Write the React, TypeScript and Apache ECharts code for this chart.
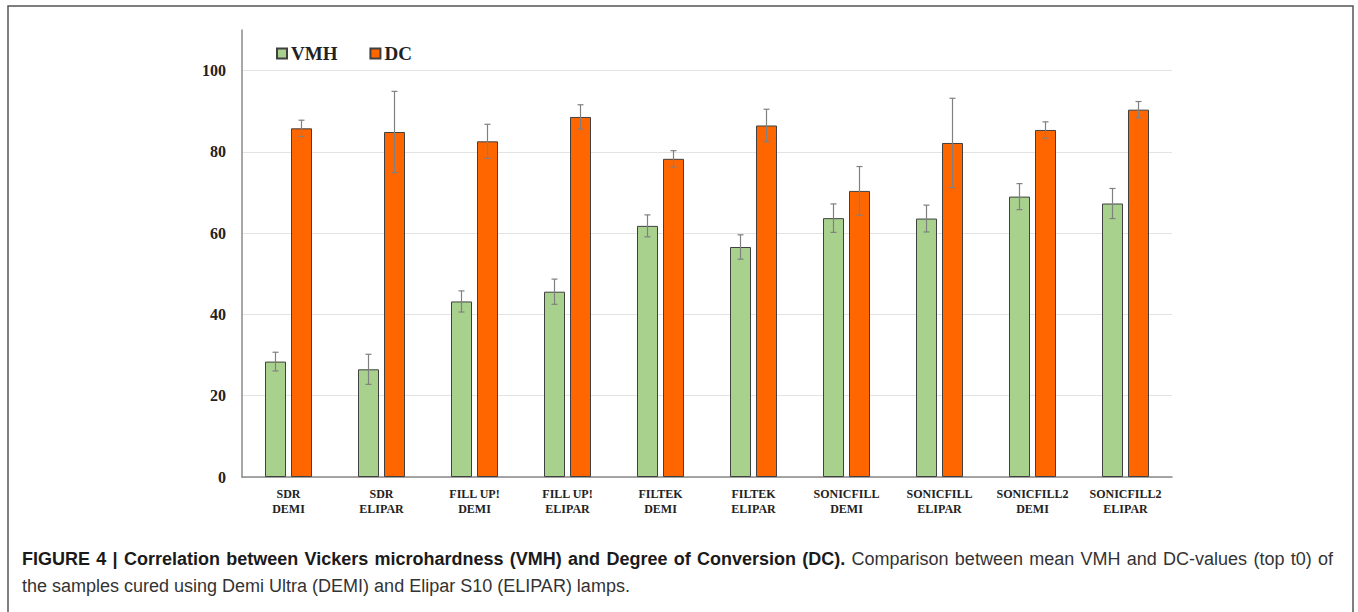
import React, { useEffect, useRef } from "react";
import * as echarts from "echarts";

const categories = [
  "SDR\nDEMI",
  "SDR\nELIPAR",
  "FILL UP!\nDEMI",
  "FILL UP!\nELIPAR",
  "FILTEK\nDEMI",
  "FILTEK\nELIPAR",
  "SONICFILL\nDEMI",
  "SONICFILL\nELIPAR",
  "SONICFILL2\nDEMI",
  "SONICFILL2\nELIPAR",
];
const vmh = [28.4, 26.5, 43.2, 45.6, 61.8, 56.6, 63.7, 63.6, 69.0, 67.3];
const vmhErr = [2.3, 3.7, 2.6, 3.1, 2.7, 3.0, 3.5, 3.3, 3.2, 3.7];
const dc = [85.8, 84.9, 82.6, 88.6, 78.3, 86.5, 70.4, 82.2, 85.4, 90.4];
const dcErr = [2.0, 10.0, 4.2, 3.0, 2.0, 4.0, 6.0, 11.0, 2.0, 2.0];
const yTicks = { min: 0, max: 110, interval: 20 };

const captionBold =
  "FIGURE 4 | Correlation between Vickers microhardness (VMH) and Degree of Conversion (DC).";
const captionRest1 = "Comparison between mean VMH and DC-values (top t0) of";
const captionLine2 =
  "the samples cured using Demi Ultra (DEMI) and Elipar S10 (ELIPAR) lamps.";

const BAR_W = 21;
const GAP_PX = 5;
const CAP_FONT = 18;
const CAP_LEFT = 22;
const CAP_RIGHT = 1333;

function errorSeries(name: string, means: number[], errs: number[], offset: number) {
  return {
    type: "custom",
    name: name + "-err",
    z: 5,
    silent: true,
    encode: { x: 0, y: 1 },
    data: means.map((m, i) => [i, m, errs[i]]),
    renderItem: (params: any, api: any) => {
      const idx = api.value(0);
      const m = api.value(1);
      const e = api.value(2);
      const top = api.coord([idx, m + e]);
      const bot = api.coord([idx, m - e]);
      const x = top[0] + offset;
      const cap = 3;
      const style = { stroke: "#808080", lineWidth: 1.2 };
      return {
        type: "group",
        children: [
          { type: "line", shape: { x1: x, y1: top[1], x2: x, y2: bot[1] }, style },
          { type: "line", shape: { x1: x - cap, y1: top[1], x2: x + cap, y2: top[1] }, style },
          { type: "line", shape: { x1: x - cap, y1: bot[1], x2: x + cap, y2: bot[1] }, style },
        ],
      };
    },
  };
}

function justifiedLine(y: number) {
  const canvas = document.createElement("canvas");
  const ctx = canvas.getContext("2d") as CanvasRenderingContext2D;
  const boldFont = `bold ${CAP_FONT}px "Liberation Sans"`;
  const normFont = `${CAP_FONT}px "Liberation Sans"`;
  const words: { t: string; bold: boolean; w: number }[] = [];
  captionBold.split(" ").forEach((t) => {
    ctx.font = boldFont;
    words.push({ t, bold: true, w: ctx.measureText(t).width });
  });
  captionRest1.split(" ").forEach((t) => {
    ctx.font = normFont;
    words.push({ t, bold: false, w: ctx.measureText(t).width });
  });
  const total = words.reduce((s, w) => s + w.w, 0);
  const gap = (CAP_RIGHT - CAP_LEFT - total) / (words.length - 1);
  let x = CAP_LEFT;
  return words.map((w) => {
    const el = {
      type: "text",
      x,
      y,
      silent: true,
      style: {
        text: w.t,
        fontFamily: "Liberation Sans",
        fontWeight: w.bold ? "bold" : "normal",
        fontSize: CAP_FONT,
        fill: w.bold ? "#1a1a1a" : "#333",
      },
    };
    x += w.w + gap;
    return el;
  });
}

export default function App() {
  const ref = useRef<HTMLDivElement>(null);
  useEffect(() => {
    if (!ref.current) return;
    const chart = echarts.init(ref.current, null, { renderer: "svg" });
    const off = (BAR_W + GAP_PX) / 2;
    chart.setOption({
      animation: false,
      backgroundColor: "#ffffff",
      legend: {
        left: 271,
        top: 39,
        itemWidth: 10,
        itemHeight: 10,
        itemGap: 32,
        icon: "rect",
        data: ["VMH", "DC"],
        textStyle: {
          fontFamily: "Liberation Serif",
          fontWeight: "bold",
          fontSize: 19,
          color: "#222",
          padding: [0, 0, 0, -1],
        },
      },
      grid: { left: 242, right: 186, top: 30, bottom: 135, containLabel: false },
      xAxis: {
        type: "category",
        data: categories,
        axisLine: { lineStyle: { color: "#8a8a8a", width: 1.5 } },
        axisTick: { show: false },
        axisLabel: {
          interval: 0,
          margin: 9,
          fontFamily: "Liberation Serif",
          fontWeight: "bold",
          fontSize: 12,
          lineHeight: 15,
          color: "#222",
        },
      },
      yAxis: {
        type: "value",
        min: yTicks.min,
        max: yTicks.max,
        interval: yTicks.interval,
        axisLine: { show: true, lineStyle: { color: "#8a8a8a", width: 1.5 } },
        axisTick: { show: false },
        splitLine: { show: true, showMaxLine: false, lineStyle: { color: "#e3e3e3", width: 1.2 } },
        axisLabel: {
          showMaxLabel: false,
          margin: 16,
          fontFamily: "Liberation Serif",
          fontWeight: "bold",
          fontSize: 16,
          color: "#222",
          formatter: (v: number) => (v > 100 ? "" : String(v)),
        },
      },
      series: [
        {
          type: "bar",
          name: "VMH",
          data: vmh,
          barWidth: BAR_W,
          barGap: (GAP_PX / BAR_W) * 100 + "%",
          itemStyle: { color: "#a9d18e", borderColor: "#404040", borderWidth: 1 },
        },
        {
          type: "bar",
          name: "DC",
          data: dc,
          barWidth: BAR_W,
          itemStyle: { color: "#ff6600", borderColor: "#404040", borderWidth: 1 },
        },
        errorSeries("VMH", vmh, vmhErr, -off),
        errorSeries("DC", dc, dcErr, off),
      ],
      graphic: [
        {
          type: "rect",
          shape: { x: 8, y: 6, width: 1345, height: 640 },
          style: { fill: "none", stroke: "#555", lineWidth: 1.5 },
          silent: true,
        },
        ...justifiedLine(550),
        {
          type: "text",
          x: CAP_LEFT,
          y: 577,
          silent: true,
          style: {
            text: captionLine2,
            fontFamily: "Liberation Sans",
            fontSize: CAP_FONT,
            fill: "#333",
          },
        },
      ],
    });
    return () => chart.dispose();
  }, []);
  return (
    <div
      ref={ref}
      style={{ position: "fixed", left: 0, top: 0, width: 1358, height: 612 }}
    />
  );
}
